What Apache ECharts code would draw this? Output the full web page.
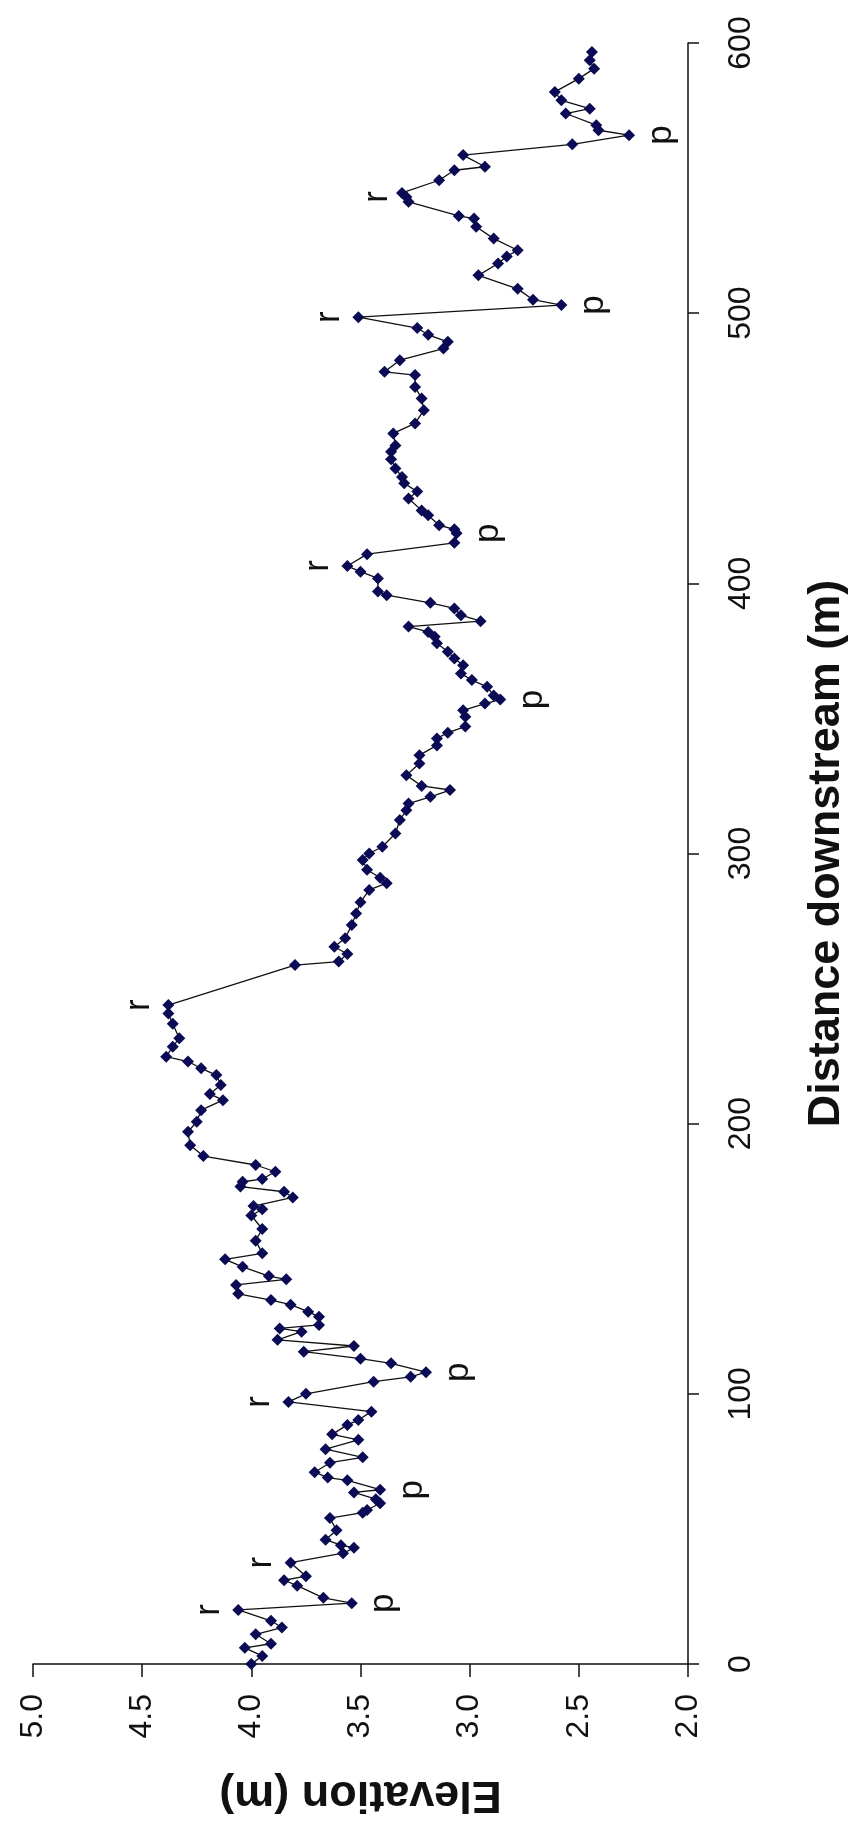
<!DOCTYPE html>
<html>
<head>
<meta charset="utf-8">
<title>Longitudinal bed profile</title>
<script src="https://cdn.jsdelivr.net/npm/echarts@6/dist/echarts.min.js"></script>
<style>
  html, body { margin: 0; padding: 0; background: #ffffff; }
  #chart { width: 857px; height: 1824px; }
</style>
</head>
<body>
<div id="chart"></div>
<script>
// Surveyed bed profile: distance downstream (m) and bed elevation (m)
const distances = [
  0, 3, 6, 7.5, 11, 13.5, 16, 20, 22.5, 24.5, 29, 31, 32.5, 37.5, 41, 43, 44, 46, 49.5, 54,
  56, 57, 59.5, 61, 63.5, 64.5, 68, 69, 71, 74.5, 76.5, 79.5, 83, 85, 88.5, 90.3, 93.4, 97, 100, 104.5,
  106.3, 108, 111.3, 113, 115.6, 117.7, 120, 123, 124.2, 125.5, 128.5, 130.4, 133, 134.7, 137, 140.3, 142.4, 143.6, 147, 149.8,
  152, 156.7, 161, 166, 168.3, 169.5, 172.7, 174.8, 176.7, 178.5, 179.5, 182.2, 184.7, 188, 192, 197, 200.7, 205, 208.7, 211,
  214.3, 218, 220.5, 223, 224.8, 228.5, 231.6, 237, 240.8, 243.9, 258.7, 260, 262.8, 265.5, 268.6, 273.5, 277.8, 282, 286.5, 289,
  291, 294, 297.6, 300, 302.5, 307.4, 312.4, 316, 318.5, 321, 323.5, 325, 329, 333.3, 336.4, 340, 342.6, 344.7, 347, 350.6,
  353, 355.5, 357, 358.5, 361.7, 364.2, 366.6, 369.7, 372.2, 374.7, 377.8, 380.2, 382, 384, 386, 388.2, 390.7, 392.8, 395.6, 397,
  401.8, 404.3, 406.4, 410.8, 415, 418.5, 420, 421.5, 425.2, 427, 431.4, 434, 437, 439.4, 442.5, 445.9, 448.7, 451, 455.5, 459.2,
  464.1, 468.4, 472.7, 477.1, 478.3, 482.6, 486.9, 489.4, 492, 494.5, 498.5, 503, 505, 509, 514, 518.4, 521, 523.3, 527.6, 532,
  535, 536, 541.2, 543, 544.5, 549.2, 552.9, 554.2, 558.5, 562.5, 565.9, 567.7, 569.6, 573.9, 575.7, 578.8, 581.9, 586.8, 590.5, 593.6,
  596.7
];
const elevations = [
  4.00, 3.95, 4.03, 3.91, 3.98, 3.86, 3.91, 4.06, 3.54, 3.67, 3.79, 3.85, 3.75, 3.82, 3.58, 3.53, 3.59, 3.66, 3.61, 3.64,
  3.49, 3.47, 3.41, 3.43, 3.53, 3.41, 3.56, 3.65, 3.71, 3.64, 3.49, 3.66, 3.51, 3.63, 3.56, 3.51, 3.45, 3.83, 3.75, 3.44,
  3.27, 3.20, 3.36, 3.50, 3.76, 3.53, 3.88, 3.77, 3.87, 3.69, 3.69, 3.74, 3.82, 3.91, 4.06, 4.07, 3.84, 3.92, 4.04, 4.12,
  3.95, 3.98, 3.95, 4.00, 3.95, 3.99, 3.81, 3.85, 4.05, 4.04, 3.95, 3.89, 3.98, 4.22, 4.28, 4.29, 4.25, 4.23, 4.13, 4.19,
  4.14, 4.16, 4.23, 4.29, 4.39, 4.36, 4.33, 4.36, 4.38, 4.38, 3.80, 3.60, 3.56, 3.62, 3.57, 3.54, 3.52, 3.50, 3.46, 3.38,
  3.41, 3.47, 3.49, 3.46, 3.40, 3.34, 3.32, 3.29, 3.28, 3.18, 3.09, 3.22, 3.29, 3.23, 3.23, 3.15, 3.15, 3.10, 3.02, 3.02,
  3.03, 2.93, 2.86, 2.89, 2.92, 2.99, 3.04, 3.03, 3.07, 3.10, 3.15, 3.16, 3.19, 3.28, 2.95, 3.04, 3.07, 3.18, 3.38, 3.42,
  3.42, 3.50, 3.56, 3.47, 3.07, 3.06, 3.07, 3.14, 3.19, 3.22, 3.28, 3.24, 3.30, 3.31, 3.34, 3.36, 3.36, 3.34, 3.35, 3.25,
  3.21, 3.22, 3.25, 3.25, 3.39, 3.32, 3.12, 3.10, 3.19, 3.24, 3.51, 2.58, 2.71, 2.78, 2.96, 2.87, 2.83, 2.78, 2.89, 2.97,
  2.98, 3.05, 3.28, 3.29, 3.31, 3.14, 3.07, 2.93, 3.03, 2.53, 2.27, 2.41, 2.42, 2.56, 2.45, 2.58, 2.61, 2.50, 2.43, 2.45,
  2.44
];

// Riffle (r) and pool (p) annotations, keyed by surveyed distance
const riffleDistances = [20, 37.5, 97, 243.9, 406.4, 498.5, 543];
const poolDistances = [22.5, 64.5, 108, 357, 418.5, 503, 565.9];

// Axis ticks
const elevationTicks = { min: 2, max: 5, step: 0.5 };
const distanceTicks = { min: 0, max: 600, step: 100 };

const FONT = '"Liberation Sans", Arial, sans-serif';
const INK = '#111111';

const riffleLabel = {
  show: true, formatter: 'r', position: 'inside', rotate: 90,
  offset: [0, -29], color: INK, fontFamily: FONT, fontSize: 35
};
const poolLabel = {
  show: true, formatter: 'p', position: 'inside', rotate: 90,
  offset: [0, 32], color: INK, fontFamily: FONT, fontSize: 35
};

const seriesData = distances.map((d, i) => {
  const item = { value: [elevations[i], d] };
  if (riffleDistances.includes(d)) item.label = riffleLabel;
  if (poolDistances.includes(d)) item.label = poolLabel;
  return item;
});

const chart = echarts.init(document.getElementById('chart'), null, { renderer: 'canvas' });
chart.setOption({
  animation: false,
  backgroundColor: '#ffffff',
  grid: { left: 33, right: 165, top: 43, bottom: 160, containLabel: false },
  xAxis: {
    type: 'value',
    inverse: true,
    position: 'bottom',
    min: elevationTicks.min,
    max: elevationTicks.max,
    interval: elevationTicks.step,
    axisLine: { show: true, lineStyle: { color: INK, width: 1.5 } },
    axisTick: { show: true, inside: false, length: 13, lineStyle: { color: INK, width: 1.5 } },
    splitLine: { show: false },
    axisLabel: {
      rotate: 90, margin: 30, color: INK, fontFamily: FONT, fontSize: 32,
      formatter: v => v.toFixed(1)
    },
    name: 'Elevation (m)',
    nameLocation: 'middle',
    nameRotate: 180,
    nameGap: 108,
    nameTextStyle: { color: INK, fontFamily: FONT, fontSize: 45, fontWeight: 'bold' }
  },
  yAxis: {
    type: 'value',
    position: 'right',
    min: distanceTicks.min,
    max: distanceTicks.max,
    interval: distanceTicks.step,
    axisLine: { show: true, lineStyle: { color: INK, width: 1.5 } },
    axisTick: { show: true, inside: false, length: 11, lineStyle: { color: INK, width: 1.5 } },
    splitLine: { show: false },
    axisLabel: { rotate: 90, margin: 37, color: INK, fontFamily: FONT, fontSize: 32 },
    name: 'Distance downstream (m)',
    nameLocation: 'middle',
    nameRotate: 90,
    nameGap: 116,
    nameTextStyle: { color: INK, fontFamily: FONT, fontSize: 45, fontWeight: 'bold' }
  },
  series: [{
    type: 'line',
    data: seriesData,
    symbol: 'diamond',
    symbolSize: 12,
    showAllSymbol: true,
    itemStyle: { color: '#0b0b55' },
    lineStyle: { color: '#111111', width: 1.3 },
    emphasis: { disabled: true }
  }]
});
</script>
</body>
</html>
